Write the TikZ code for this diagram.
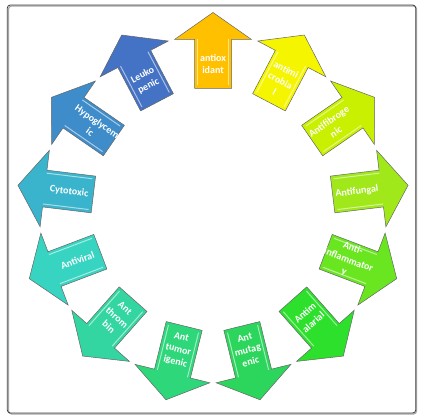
\documentclass[tikz,border=0pt]{standalone}
\usepackage{fontspec}
\setmainfont{Carlito}
\usetikzlibrary{calc}

\definecolor{cLeuko}{HTML}{4472C4}
\definecolor{cHypo}{HTML}{3E8DCA}
\definecolor{cCyto}{HTML}{3AB4CC}
\definecolor{cViral}{HTML}{38D4C2}
\definecolor{cThromb}{HTML}{33D6A0}
\definecolor{cTumor}{HTML}{2ED77A}
\definecolor{cMutag}{HTML}{2CD65C}
\definecolor{cMalar}{HTML}{2CE02C}
\definecolor{cInfl}{HTML}{6AE620}
\definecolor{cFungal}{HTML}{A0E81A}
\definecolor{cFibro}{HTML}{C8F000}
\definecolor{cMicro}{HTML}{F5F500}
\definecolor{cAntiox}{HTML}{FFC000}

\tikzset{
  petal/.style={draw=gray!80!black, line width=0.5pt, line join=miter},
  petal shine/.style={line width=1pt},
  petal text/.style={text=white, font=\bfseries\fontsize{10}{12.5}\selectfont, align=center, inner sep=0pt},
}

\begin{document}
\begin{tikzpicture}[x=1pt, y=1pt]
  \useasboundingbox (0,0) rectangle (425,417);
  \coordinate (hub) at (213,208);

  % frame
  \draw[gray!70, line width=1.2pt, rounded corners=3pt] (8.5,3) rectangle (416.5,411);
  \draw[black!75, line width=0.8pt, rounded corners=3pt] (7.3,4) rectangle (415.7,412);

  % ring of arrows
  \foreach \i/\col/\txt in {0/cAntiox/{antiox\\idant}, 1/cMicro/{antimi\\crobia\\l},
      2/cFibro/{Antifibroge\\nic}, 3/cFungal/{Antifungal}, 4/cInfl/{Anti-\\inflammator\\y},
      5/cMalar/{Antim\\alarial}, 6/cMutag/{Ant\\mutag\\enic}, 7/cTumor/{Ant\\tumor\\igenic},
      8/cThromb/{Ant\\throm\\bin}, 9/cViral/{Antiviral}, 10/cCyto/{Cytotoxic},
      11/cHypo/{Hypoglycem\\ic}, 12/cLeuko/{Leuko\\penic}}{
    \pgfmathsetmacro\ang{90-\i*360/13}
    \pgfmathsetmacro\rot{mod(\ang-90+45+360,90)-45}
    \begin{scope}[shift={(hub)}, rotate=\ang]
      \filldraw[petal, fill=\col] (196.5,0) -- (169.5,38.5) -- (169.5,18.5) -- (120.5,18.5)
        -- (120.5,-18.5) -- (169.5,-18.5) -- (169.5,-38.5) -- cycle;
      \draw[petal shine, \col!45!white] (123.5,15.5) -- (169.5,15.5);
      \draw[petal shine, \col!45!white] (123.5,-15.5) -- (169.5,-15.5);
    \end{scope}
    \node[petal text, rotate=\rot] (p\i) at ($(hub)+(\ang:145)$) {\txt};
  }
\end{tikzpicture}
\end{document}
